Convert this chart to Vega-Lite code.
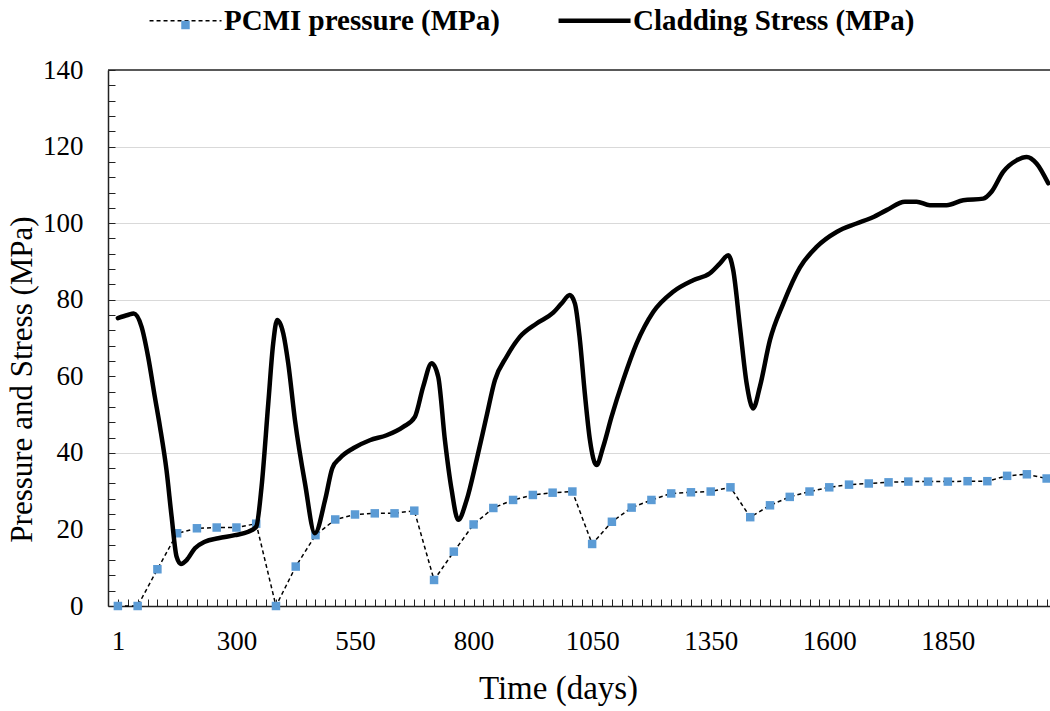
{
  "$schema": "https://vega.github.io/schema/vega-lite/v6.json",
  "width": 942,
  "height": 536,
  "autosize": {"type": "none"},
  "padding": {"left": 108, "top": 70, "right": 0, "bottom": 105},
  "background": "white",
  "config": {"view": {"stroke": null}, "font": "Liberation Serif"},
  "datasets": {
    "frame": [{"v": 140}],
    "pcmi": [
      {"t": 0, "v": 0}, {"t": 1, "v": 0}, {"t": 2, "v": 9.6}, {"t": 3, "v": 19.0}, {"t": 4, "v": 20.3},
      {"t": 5, "v": 20.5}, {"t": 6, "v": 20.5}, {"t": 7, "v": 21.5}, {"t": 8, "v": 0}, {"t": 9, "v": 10.3},
      {"t": 10, "v": 18.5}, {"t": 11, "v": 22.6}, {"t": 12, "v": 23.9}, {"t": 13, "v": 24.2}, {"t": 14, "v": 24.2},
      {"t": 15, "v": 24.9}, {"t": 16, "v": 6.8}, {"t": 17, "v": 14.2}, {"t": 18, "v": 21.3}, {"t": 19, "v": 25.6},
      {"t": 20, "v": 27.7}, {"t": 21, "v": 29.0}, {"t": 22, "v": 29.6}, {"t": 23, "v": 29.9}, {"t": 24, "v": 16.2},
      {"t": 25, "v": 22.0}, {"t": 26, "v": 25.7}, {"t": 27, "v": 27.7}, {"t": 28, "v": 29.4}, {"t": 29, "v": 29.7},
      {"t": 30, "v": 29.9}, {"t": 31, "v": 31.0}, {"t": 32, "v": 23.2}, {"t": 33, "v": 26.3}, {"t": 34, "v": 28.5},
      {"t": 35, "v": 29.9}, {"t": 36, "v": 31.0}, {"t": 37, "v": 31.7}, {"t": 38, "v": 32.0}, {"t": 39, "v": 32.3},
      {"t": 40, "v": 32.5}, {"t": 41, "v": 32.5}, {"t": 42, "v": 32.5}, {"t": 43, "v": 32.6}, {"t": 44, "v": 32.6},
      {"t": 45, "v": 34.0}, {"t": 46, "v": 34.4}, {"t": 47, "v": 33.3}
    ],
    "stress": [
      {"t": 0, "v": 75.2}, {"t": 0.5, "v": 76.0}, {"t": 0.8, "v": 76.4}, {"t": 1.2, "v": 72.9}, {"t": 1.53, "v": 65.1},
      {"t": 1.87, "v": 54.6}, {"t": 2.13, "v": 46.8}, {"t": 2.46, "v": 35.5}, {"t": 2.72, "v": 23.3}, {"t": 2.97, "v": 12.9},
      {"t": 3.19, "v": 11.0}, {"t": 3.48, "v": 12.0}, {"t": 3.9, "v": 15.1}, {"t": 4.4, "v": 16.8}, {"t": 5.08, "v": 17.7},
      {"t": 5.92, "v": 18.5}, {"t": 6.6, "v": 19.4}, {"t": 7.0, "v": 20.7}, {"t": 7.27, "v": 31.1}, {"t": 7.61, "v": 52.9},
      {"t": 7.86, "v": 68.6}, {"t": 8.06, "v": 74.7}, {"t": 8.37, "v": 71.2}, {"t": 8.62, "v": 63.4}, {"t": 8.96, "v": 48.6},
      {"t": 9.47, "v": 32.0}, {"t": 9.97, "v": 19.0}, {"t": 10.5, "v": 28.0}, {"t": 10.85, "v": 36.0}, {"t": 11.23, "v": 38.6},
      {"t": 11.91, "v": 41.2}, {"t": 12.75, "v": 43.3}, {"t": 13.6, "v": 44.6}, {"t": 14.44, "v": 46.8}, {"t": 15.03, "v": 49.4},
      {"t": 15.45, "v": 57.3}, {"t": 15.88, "v": 63.4}, {"t": 16.21, "v": 59.9}, {"t": 16.55, "v": 43.3}, {"t": 16.89, "v": 30.3},
      {"t": 17.22, "v": 22.5}, {"t": 17.65, "v": 27.7}, {"t": 18.15, "v": 38.1}, {"t": 18.65, "v": 49.4}, {"t": 19.08, "v": 59.0},
      {"t": 19.67, "v": 65.1}, {"t": 20.34, "v": 70.3}, {"t": 21.19, "v": 73.8}, {"t": 22.03, "v": 76.6}, {"t": 22.45, "v": 79.0},
      {"t": 22.87, "v": 81.2}, {"t": 23.13, "v": 79.0}, {"t": 23.38, "v": 69.5}, {"t": 23.63, "v": 55.5}, {"t": 23.89, "v": 43.3},
      {"t": 24.22, "v": 36.8}, {"t": 24.56, "v": 41.6}, {"t": 24.98, "v": 49.4}, {"t": 25.57, "v": 59.0}, {"t": 26.25, "v": 68.6},
      {"t": 27.09, "v": 76.8}, {"t": 28.1, "v": 82.1}, {"t": 29.11, "v": 85.1}, {"t": 29.96, "v": 86.9}, {"t": 30.47, "v": 89.5},
      {"t": 30.89, "v": 91.6}, {"t": 31.14, "v": 87.7}, {"t": 31.48, "v": 72.9}, {"t": 31.82, "v": 58.1}, {"t": 32.15, "v": 51.6},
      {"t": 32.49, "v": 57.3}, {"t": 33.0, "v": 69.5}, {"t": 33.67, "v": 79.0}, {"t": 34.51, "v": 88.4}, {"t": 35.36, "v": 93.8},
      {"t": 36.37, "v": 97.7}, {"t": 37.38, "v": 99.9}, {"t": 38.06, "v": 101.2}, {"t": 38.9, "v": 103.4}, {"t": 39.83, "v": 105.6},
      {"t": 40.42, "v": 105.6}, {"t": 41.09, "v": 104.7}, {"t": 41.94, "v": 104.7}, {"t": 42.78, "v": 106.0}, {"t": 43.79, "v": 106.4},
      {"t": 44.21, "v": 108.2}, {"t": 44.8, "v": 113.4}, {"t": 45.48, "v": 116.4}, {"t": 45.99, "v": 117.3}, {"t": 46.49, "v": 115.6},
      {"t": 47.08, "v": 110.4}
    ]
  },
  "encoding": {
    "x": {
      "field": "t", "type": "quantitative",
      "scale": {"domain": [-0.5, 47.17], "nice": false, "zero": false},
      "axis": {
        "title": "Time (days)",
        "values": [0,0.5,1,1.5,2,2.5,3,3.5,4,4.5,5,5.5,6,6.5,7,7.5,8,8.5,9,9.5,10,10.5,11,11.5,12,12.5,13,13.5,14,14.5,15,15.5,16,16.5,17,17.5,18,18.5,19,19.5,20,20.5,21,21.5,22,22.5,23,23.5,24,24.5,25,25.5,26,26.5,27,27.5,28,28.5,29,29.5,30,30.5,31,31.5,32,32.5,33,33.5,34,34.5,35,35.5,36,36.5,37,37.5,38,38.5,39,39.5,40,40.5,41,41.5,42,42.5,43,43.5,44,44.5,45,45.5,46,46.5,47],
        "labelExpr": "datum.value === 0 ? '1' : datum.value === 6 ? '300' : datum.value === 12 ? '550' : datum.value === 18 ? '800' : datum.value === 24 ? '1050' : datum.value === 30 ? '1350' : datum.value === 36 ? '1600' : datum.value === 42 ? '1850' : ''",
        "labelOverlap": false,
        "labelFlush": false,
        "labelFont": "Liberation Serif",
        "labelFontSize": 27,
        "labelColor": "black",
        "labelPadding": 29,
        "tickSize": -7,
        "tickColor": "#222",
        "tickWidth": 1,
        "domainColor": "#222",
        "domainWidth": 1.5,
        "grid": false,
        "titleFont": "Liberation Serif",
        "titleFontSize": 33,
        "titleFontWeight": "normal",
        "titleColor": "black",
        "titleX": 450,
        "titleY": 92,
        "titleBaseline": "alphabetic"
      }
    },
    "y": {
      "field": "v", "type": "quantitative",
      "scale": {"domain": [0, 140], "nice": false},
      "axis": {
        "title": "Pressure and Stress (MPa)",
        "values": [0,4,8,12,16,20,24,28,32,36,40,44,48,52,56,60,64,68,72,76,80,84,88,92,96,100,104,108,112,116,120,124,128,132,136,140],
        "labelExpr": "datum.value % 20 === 0 ? datum.label : ''",
        "labelOverlap": false,
        "labelFont": "Liberation Serif",
        "labelFontSize": 27,
        "labelColor": "black",
        "labelPadding": 32,
        "tickSize": -7,
        "tickColor": "#222",
        "tickWidth": 1,
        "domainColor": "#222",
        "domainWidth": 1.5,
        "grid": true,
        "gridColor": "#d9d9d9",
        "gridWidth": 1,
        "gridOpacity": {"condition": {"test": "datum.value === 40 || datum.value === 80 || datum.value === 100 || datum.value === 120", "value": 1}, "value": 0},
        "titleFont": "Liberation Serif",
        "titleFontSize": 31,
        "titleFontWeight": "normal",
        "titleColor": "black",
        "titleX": -86,
        "titleY": 309,
        "titleBaseline": "middle"
      }
    }
  },
  "layer": [
    {
      "data": {"name": "frame"},
      "mark": {"type": "rule", "color": "#222", "strokeWidth": 1.5},
      "encoding": {"x": null, "y": {"field": "v", "type": "quantitative"}}
    },
    {
      "data": {"name": "pcmi"},
      "mark": {"type": "line", "strokeDash": [4, 3], "strokeWidth": 1.5},
      "encoding": {
        "color": {
          "datum": "PCMI pressure (MPa)",
          "scale": {"domain": ["PCMI pressure (MPa)", "Cladding Stress (MPa)"], "range": ["black", "black"]},
          "legend": {
            "title": null,
            "orient": "none",
            "legendX": 40,
            "legendY": -64,
            "direction": "horizontal",
            "symbolType": "M-0.36,0H1.64",
            "symbolSize": 5184,
            "symbolStrokeColor": "black",
            "labelFont": "Liberation Serif",
            "labelFontSize": 29,
            "labelFontWeight": "bold",
            "labelColor": "black",
            "labelLimit": 0,
            "labelOffset": 47,
            "columnPadding": 49,
            "padding": 0,
            "encode": {
              "symbols": {
                "update": {
                  "strokeDash": {"signal": "datum.value === 'PCMI pressure (MPa)' ? [4,3] : [1,0]"},
                  "strokeWidth": {"signal": "datum.value === 'PCMI pressure (MPa)' ? 1.5 : 4.5"}
                }
              }
            }
          }
        }
      }
    },
    {
      "data": {"name": "pcmi"},
      "mark": {"type": "square", "size": 72, "opacity": 1},
      "encoding": {
        "fill": {
          "datum": "PCMI pressure (MPa)",
          "scale": {"range": ["#5B9BD5"]},
          "legend": {
            "title": null,
            "orient": "none",
            "legendX": 73,
            "legendY": -49.5,
            "symbolType": "square",
            "symbolSize": 72,
            "symbolStrokeWidth": 0,
            "symbolOpacity": 1,
            "labelExpr": "''",
            "labelFontSize": 1,
            "padding": 0
          }
        }
      }
    },
    {
      "data": {"name": "stress"},
      "mark": {"type": "line", "strokeWidth": 4.5, "interpolate": "monotone", "strokeCap": "round", "strokeJoin": "round"},
      "encoding": {"color": {"datum": "Cladding Stress (MPa)"}}
    }
  ]
}
